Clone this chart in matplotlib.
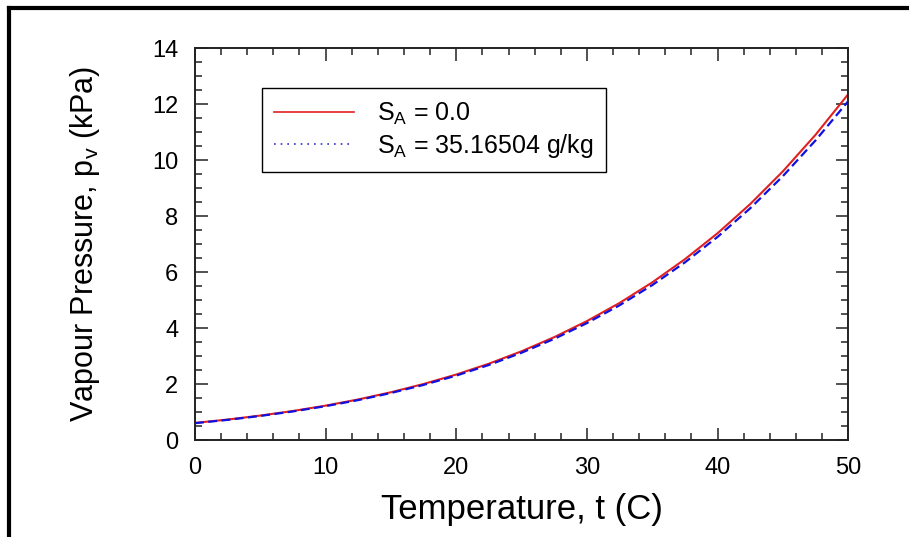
import matplotlib
matplotlib.use("Agg")
import matplotlib.pyplot as plt
from matplotlib.lines import Line2D
from matplotlib.ticker import MultipleLocator

plt.rcParams['font.family'] = ['Liberation Sans', 'DejaVu Sans']
plt.rcParams['mathtext.default'] = 'regular'

# Temperature (C) and vapour pressure (kPa) for pure water and seawater
temperature = [0, 2.5, 5, 7.5, 10, 12.5, 15, 17.5, 20, 22.5, 25,
               27.5, 30, 32.5, 35, 37.5, 40, 42.5, 45, 47.5, 50]
pv_pure = [0.611, 0.731, 0.873, 1.037, 1.228, 1.449, 1.706, 2.001, 2.339, 2.726, 3.170,
           3.674, 4.247, 4.895, 5.629, 6.456, 7.384, 8.426, 9.595, 10.90, 12.35]
pv_sea = [0.602, 0.720, 0.860, 1.021, 1.209, 1.426, 1.679, 1.969, 2.301, 2.681, 3.118,
          3.613, 4.176, 4.812, 5.532, 6.343, 7.254, 8.276, 9.423, 10.70, 12.10]

labels = [r'$S_A$ = 0.0', r'$S_A$ = 35.16504 g/kg']

fig = plt.figure(figsize=(9.09, 5.37), dpi=100)
ax = fig.add_axes([0.2145, 0.1806, 0.7186, 0.73])

ax.plot(temperature, pv_pure, color='#e02020', lw=1.5)
ax.plot(temperature, pv_sea, color='#1010e0', lw=1.6, linestyle=(0, (4, 2)))

ax.set_xlim(0, 50)
ax.set_ylim(0, 14)
ax.xaxis.set_major_locator(MultipleLocator(10))
ax.xaxis.set_minor_locator(MultipleLocator(2))
ax.yaxis.set_major_locator(MultipleLocator(2))
ax.yaxis.set_minor_locator(MultipleLocator(0.5))
ax.tick_params(which='both', direction='in', top=True, right=True, width=1.1, colors='#222222')
ax.tick_params(which='major', length=9)
ax.tick_params(which='minor', length=5)
ax.tick_params(axis='x', which='major', labelsize=17, pad=12, labelcolor='black')
ax.tick_params(axis='y', which='major', labelsize=17, pad=12, labelcolor='black')
for s in ax.spines.values():
    s.set_linewidth(1.4)
    s.set_color('#222222')

ax.set_xlabel('Temperature, t (C)', fontsize=25, labelpad=10)
ax.set_ylabel(r'Vapour Pressure, $p_v$ (kPa)', fontsize=22, labelpad=36)

handles = [Line2D([], [], color='#e02020', lw=1.2),
           Line2D([], [], color='#3030c0', lw=1.2, linestyle=(0, (1, 3)))]
leg = ax.legend(handles, labels, loc='upper left', bbox_to_anchor=(0.1026, 0.898),
                borderaxespad=0, fontsize=18, handlelength=3.2, handletextpad=0.9,
                borderpad=0.5, labelspacing=0.2, fancybox=False, framealpha=1)
leg.get_frame().set_edgecolor('black')
leg.get_frame().set_linewidth(1.0)

# thick frame along the top and left edges
fig.add_artist(Line2D([0.0099, 1.0], [0.985, 0.985], color='black', lw=3, transform=fig.transFigure))
fig.add_artist(Line2D([0.0099, 0.0099], [0.0, 0.985], color='black', lw=3, transform=fig.transFigure))

fig.savefig('out.png', dpi=100)
